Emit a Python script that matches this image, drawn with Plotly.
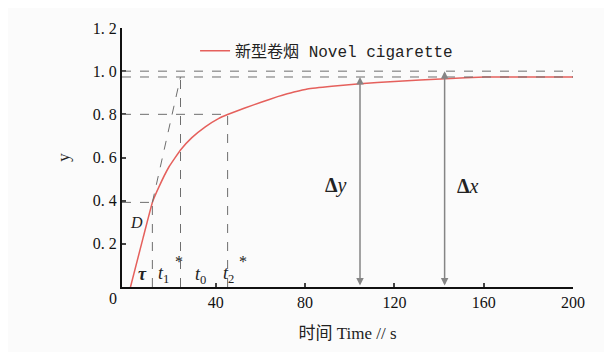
import plotly.graph_objects as go

# Data
time_s = [1.8, 7.5, 11.6, 14.6, 19, 24.2, 29.3, 35.3, 41.2, 45.3, 53, 60.3, 67.7, 72, 75, 81, 92,
          104.6, 120, 143, 160.6, 180, 200]
y_vals = [0.0, 0.23, 0.392, 0.465, 0.556, 0.635, 0.692, 0.742, 0.780, 0.799, 0.829, 0.856, 0.882,
          0.895, 0.903, 0.917, 0.930, 0.942, 0.952, 0.965, 0.973, 0.973, 0.973]

t_D, y_D = 11.6, 0.392         # inflection point D / t1
t1_star = 24.2                 # t1*
t2_star, y_t2 = 45.3, 0.80     # t2*
y_steady = 0.973               # steady value
y_one = 1.0
t_dY, t_dX = 104.6, 142.5      # arrow positions

x_ticks = [40, 80, 120, 160, 200]
y_ticks = [0.2, 0.4, 0.6, 0.8, 1.0, 1.2]
y_tick_text = ["0. 2", "0. 4", "0. 6", "0. 8", "1. 0", "1. 2"]

SERIF = "Liberation Serif"
GRAY = "#6e6e6e"

fig = go.Figure()
fig.add_trace(go.Scatter(
    x=time_s, y=y_vals, mode="lines", line=dict(color="#e5605c", width=1.5, shape="spline", smoothing=0.3),
    name="新型卷烟 Novel cigarette"))

dash = dict(color=GRAY, width=1, dash="dash")
shapes = [
    dict(type="line", x0=-2, x1=200, y0=y_one, y1=y_one, line=dash),
    dict(type="line", x0=-2, x1=200, y0=y_steady, y1=y_steady, line=dash),
    dict(type="line", x0=-2, x1=t_D, y0=y_D, y1=y_D, line=dash),
    dict(type="line", x0=t_D, x1=t_D, y0=0, y1=y_D, line=dash),
    dict(type="line", x0=t1_star, x1=t1_star, y0=0, y1=y_steady, line=dash),
    dict(type="line", x0=t_D, x1=t1_star, y0=y_D, y1=y_steady, line=dash),
    dict(type="line", x0=-2, x1=t2_star, y0=y_t2, y1=y_t2, line=dash),
    dict(type="line", x0=t2_star, x1=t2_star, y0=0, y1=y_t2, line=dash),
]
fig.update_layout(shapes=shapes)

ann = []
for tx, ty in [(t_dY, y_steady), (t_dX, y_one)]:
    ann.append(dict(x=tx, y=ty, ax=tx, ay=0, xref="x", yref="y", axref="x", ayref="y",
                    showarrow=True, arrowhead=2, startarrowhead=2, arrowside="end+start",
                    arrowwidth=1.5, arrowsize=1, arrowcolor="#858585", text=""))

def lab(x, y, text, size=17):
    ann.append(dict(x=x, y=y, xref="x", yref="y", text=text, showarrow=False,
                    font=dict(family=SERIF, size=size, color="#222")))

lab(94, 0.47, "<b>Δ</b><i>y</i>", 20)
lab(153, 0.47, "<b>Δ</b><i>x</i>", 20)
lab(4.6, 0.30, "<i>D</i>", 16)
lab(7.0, 0.06, "<i><b>τ</b></i>", 18)
lab(16.4, 0.06, "<i>t</i><sub>1</sub>", 18)
lab(23.5, 0.12, "*", 16)
lab(33, 0.055, "<i>t</i><sub>0</sub>", 18)
lab(45.5, 0.06, "<i>t</i><sub>2</sub>", 18)
lab(52, 0.12, "*", 16)
ann.append(dict(x=-2, y=0, xref="x", yref="y", text="0", showarrow=False, xanchor="right",
                yanchor="top", xshift=-3, yshift=-1, font=dict(family=SERIF, size=16, color="#111")))
fig.update_layout(annotations=ann)

fig.update_xaxes(range=[-2, 200], tickvals=x_ticks, ticks="inside", ticklen=4, tickwidth=1.5,
                 showline=True, linecolor="#111", linewidth=2, showgrid=False, zeroline=False,
                 tickfont=dict(family=SERIF, size=16, color="#111"),
                 title=dict(text="时间 Time // s", font=dict(family="Liberation Serif, Noto Sans CJK SC", size=17, color="#222"), standoff=17))
fig.update_yaxes(range=[0, 1.2], tickvals=y_ticks, ticktext=y_tick_text, ticks="inside", ticklen=4, tickwidth=1.5,
                 showline=True, linecolor="#111", linewidth=2, showgrid=False, zeroline=False,
                 tickfont=dict(family=SERIF, size=16, color="#111"),
                 title=dict(text="y", font=dict(family=SERIF, size=17, color="#222"), standoff=19))

fig.update_layout(
    width=604, height=344, margin=dict(l=114, r=39, t=17, b=63),
    paper_bgcolor="#fbfbfb", plot_bgcolor="#fbfbfb",
    showlegend=True,
    legend=dict(x=0.162, y=0.912, xanchor="left", yanchor="middle", bgcolor="rgba(0,0,0,0)",
                font=dict(family="Liberation Mono, Noto Sans CJK SC", size=16, color="#222")),
)

fig.write_html("out.html")
